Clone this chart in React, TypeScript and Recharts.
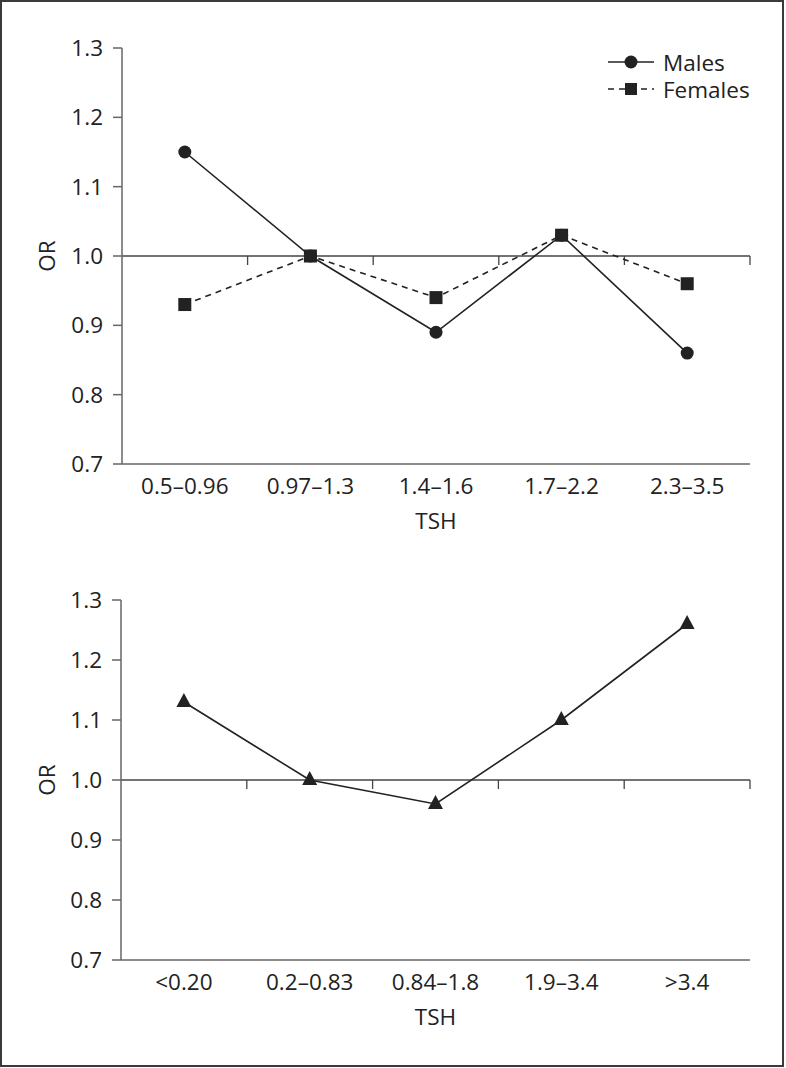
import React from 'react';
import { LineChart, Line, XAxis, YAxis, ReferenceLine } from 'recharts';

const topCategories = ['0.5–0.96', '0.97–1.3', '1.4–1.6', '1.7–2.2', '2.3–3.5'];
const malesOR = [1.15, 1.0, 0.89, 1.03, 0.86];
const femalesOR = [0.93, 1.0, 0.94, 1.03, 0.96];

const bottomCategories = ['<0.20', '0.2–0.83', '0.84–1.8', '1.9–3.4', '>3.4'];
const overallOR = [1.13, 1.0, 0.96, 1.1, 1.26];

const yTicks = [0.7, 0.8, 0.9, 1.0, 1.1, 1.2, 1.3];

const topData = topCategories.map((c, i) => ({ tsh: c, males: malesOR[i], females: femalesOR[i] }));
const bottomData = bottomCategories.map((c, i) => ({ tsh: c, or: overallOR[i] }));

const FONT = '"Open Sans", "Noto Sans", sans-serif';
const FS = 22.5;
const INK = '#222';
const AXIS = '#666';

const CircleDot = (props: any) => {
  const { cx, cy } = props;
  if (cx == null || cy == null) return null;
  return <circle cx={cx} cy={cy} r={6.5} fill={INK} />;
};
const SquareDot = (props: any) => {
  const { cx, cy } = props;
  if (cx == null || cy == null) return null;
  return <rect x={cx - 6.5} y={cy - 6.5} width={13} height={13} fill={INK} />;
};
const TriangleDot = (props: any) => {
  const { cx, cy } = props;
  if (cx == null || cy == null) return null;
  return <polygon points={`${cx},${cy - 9} ${cx - 7.5},${cy + 5} ${cx + 7.5},${cy + 5}`} fill={INK} />;
};

const tickStyle = { fontSize: FS, fill: INK, fontFamily: FONT };

const ORLabel = (props: any) => {
  const vb = props.viewBox || {};
  const x = (vb.x || 0) + 46;
  const y = (vb.y || 0) + (vb.height || 0) / 2;
  return (
    <text x={x} y={y} transform={`rotate(-90, ${x}, ${y})`} textAnchor="middle" dominantBaseline="central"
      fontSize={FS} fill={INK} fontFamily={FONT}>OR</text>
  );
};

const LegendBox = () => (
  <svg width={172} height={80} style={{ position: 'absolute', left: 604, top: 33 }}>
    <line x1={4} y1={29} x2={50} y2={29} stroke={INK} strokeWidth={1.6} />
    <circle cx={27} cy={29} r={6.5} fill={INK} />
    <text x={59} y={29} dominantBaseline="central" fontSize={FS} fill={INK} fontFamily={FONT}>Males</text>
    <line x1={4} y1={56} x2={50} y2={56} stroke={INK} strokeWidth={1.6} strokeDasharray="6 5" />
    <rect x={21} y={50} width={12} height={12} fill={INK} />
    <text x={59} y={56} dominantBaseline="central" fontSize={FS} fill={INK} fontFamily={FONT}>Females</text>
  </svg>
);

const xTickLineDepthTop = 0.013;
const xTickLineDepthBottom = 0.015;

export default function App() {
  return (
    <div style={{ position: 'absolute', left: 0, top: 0, width: 786, height: 1068, background: '#fff' }}>
      <div style={{ position: 'absolute', left: 0, top: 0, width: 784, height: 1067, border: '2px solid #3a3a3a', boxSizing: 'border-box' }} />
      <div style={{ position: 'absolute', left: 0, top: 0 }}>
        <LineChart width={786} height={540} data={topData} margin={{ top: 48, right: 36, left: 0, bottom: 6 }}>
          <XAxis dataKey="tsh" scale="band" height={70} tickLine={false} tickMargin={8}
            axisLine={{ stroke: AXIS, strokeWidth: 1.5 }} tick={tickStyle} interval={0}
            label={{ value: 'TSH', position: 'insideTop', offset: 49, fontSize: FS, fill: INK, fontFamily: FONT }} />
          <YAxis domain={[0.7, 1.3]} ticks={yTicks} width={122} tickSize={9} tickMargin={10}
            axisLine={{ stroke: AXIS, strokeWidth: 1.5 }} tickLine={{ stroke: AXIS, strokeWidth: 1.5 }}
            tick={tickStyle} tickFormatter={(v: number) => v.toFixed(1)} label={<ORLabel />} />
          <ReferenceLine y={1} stroke="#444" strokeWidth={1.3} />
          {topCategories.map((c) => (
            <ReferenceLine key={c} position="end" stroke="#444" strokeWidth={1.3}
              segment={[{ x: c, y: 1 }, { x: c, y: 1 - xTickLineDepthTop }]} />
          ))}
          <Line dataKey="females" stroke={INK} strokeWidth={1.6} strokeDasharray="6 5" dot={<SquareDot />} isAnimationActive={false} />
          <Line dataKey="males" stroke={INK} strokeWidth={1.6} dot={<CircleDot />} isAnimationActive={false} />
        </LineChart>
        <LegendBox />
      </div>
      <div style={{ position: 'absolute', left: 0, top: 540 }}>
        <LineChart width={786} height={528} data={bottomData} margin={{ top: 60, right: 36, left: 0, bottom: 38 }}>
          <XAxis dataKey="tsh" scale="band" height={70} tickLine={false} tickMargin={8}
            axisLine={{ stroke: AXIS, strokeWidth: 1.5 }} tick={tickStyle} interval={0}
            label={{ value: 'TSH', position: 'insideTop', offset: 49, fontSize: FS, fill: INK, fontFamily: FONT }} />
          <YAxis domain={[0.7, 1.3]} ticks={yTicks} width={121} tickSize={9} tickMargin={10}
            axisLine={{ stroke: AXIS, strokeWidth: 1.5 }} tickLine={{ stroke: AXIS, strokeWidth: 1.5 }}
            tick={tickStyle} tickFormatter={(v: number) => v.toFixed(1)} label={<ORLabel />} />
          <ReferenceLine y={1} stroke="#444" strokeWidth={1.3} />
          {bottomCategories.map((c) => (
            <ReferenceLine key={c} position="end" stroke="#444" strokeWidth={1.3}
              segment={[{ x: c, y: 1 }, { x: c, y: 1 - xTickLineDepthBottom }]} />
          ))}
          <Line dataKey="or" stroke={INK} strokeWidth={1.6} dot={<TriangleDot />} isAnimationActive={false} />
        </LineChart>
      </div>
    </div>
  );
}
